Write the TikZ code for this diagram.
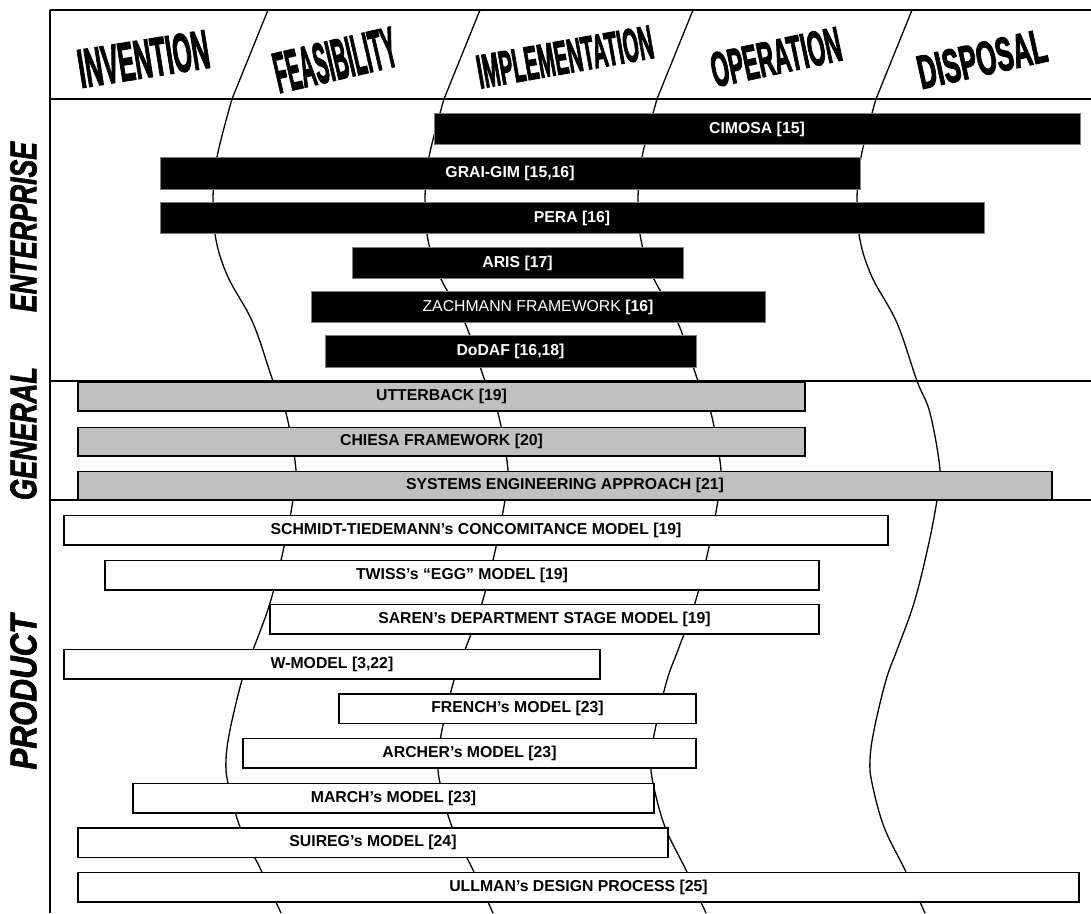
\documentclass[tikz,border=0pt]{standalone}
\usepackage{fontspec}
\setmainfont{Liberation Sans}
\newfontfamily\phasefont{Liberation Sans Bold}[RawFeature={embolden=3}]
\newfontfamily\sidefont{Liberation Sans Bold Italic}[RawFeature={embolden=2}]
\usepackage{tikz}
\definecolor{gen_grey}{HTML}{C0C0C0}
\definecolor{ent_edge}{HTML}{7F7F7F}

\begin{document}
\begin{tikzpicture}[x=1pt, y=-1pt,
        frame/.style={line width=1.6pt},
        phase/.style={line width=1.3pt},
        barfont/.style={font=\fontsize{15.8}{18}\selectfont\bfseries, inner sep=0pt},
        ent/.style={barfont, fill=black, draw=ent_edge, line width=0.8pt, text=white, minimum height=31.5pt},
        gen/.style={barfont, fill=gen_grey, draw=black, line width=1.5pt, minimum height=28.5pt},
        prod/.style={barfont, fill=white, draw=black, line width=1.5pt, minimum height=29.5pt},
        phasename/.style={inner sep=0pt},
        side/.style={inner sep=0pt, rotate=90}]

    \useasboundingbox (0,0) rectangle (1091,913);

    \foreach \dx in {0,212,425,644}{
        \draw[phase, xshift=\dx] (268,10) -- (232,99);
        \draw[phase, xshift=\dx] plot[smooth, tension=0.6] coordinates {(232,99) (217,157) (213,200) (216,240) (228,277) (253,323) (273,381) (286,413) (296,470) (293,500) (284,547) (270,603) (253,650) (242,680) (230,730) (226,760) (228,783) (240,827) (261,870) (281,913)};
    }

    \draw[frame] (50,10) -- (1091,10);
    \draw[frame] (50,99) -- (1091,99);
    \draw[frame] (50,381) -- (1091,381);
    \draw[frame] (50,500) -- (1091,500);
    \draw[frame] (50,10) -- (50,913);

    \node[phasename, rotate=9] (invention) at (143.5,59) {\resizebox{132pt}{38pt}{\phasefont INVENTION}};
    \node[phasename, rotate=13] (feasibility) at (335,60) {\resizebox{124pt}{40pt}{\phasefont FEASIBILITY}};
    \node[phasename, rotate=10] (implementation) at (565,57) {\resizebox{178pt}{33pt}{\phasefont IMPLEMENTATION}};
    \node[phasename, rotate=12] (operation) at (776,57) {\resizebox{132pt}{34pt}{\phasefont OPERATION}};
    \node[phasename, rotate=12.5] (disposal) at (982,59) {\resizebox{131pt}{33pt}{\phasefont DISPOSAL}};

    \node[side] (enterprise) at (23.5,227) {\resizebox{170pt}{26pt}{\sidefont ENTERPRISE}};
    \node[side] (general) at (23.5,433.5) {\resizebox{133pt}{26pt}{\sidefont GENERAL}};
    \node[side] (product) at (23.5,692) {\resizebox{155pt}{26pt}{\sidefont PRODUCT}};

    \node[ent, minimum width=646pt] (cimosa) at (757,129) {CIMOSA [15]};
    \node[ent, minimum width=700pt] (graigim) at (510,173.5) {GRAI-GIM [15,16]};
    \node[ent, minimum width=824pt] (pera) at (572,218) {PERA [16]};
    \node[ent, minimum width=331pt] (aris) at (517.5,263) {ARIS [17]};
    \node[ent, minimum width=454pt] (zachmann) at (538,307) {{\mdseries ZACHMANN FRAMEWORK} [16]};
    \node[ent, minimum width=371pt] (dodaf) at (510.5,351.5) {DoDAF [16,18]};

    \node[gen, minimum width=727pt] (utterback) at (441.5,396.5) {UTTERBACK [19]};
    \node[gen, minimum width=727pt] (chiesa) at (441.5,441.5) {CHIESA FRAMEWORK [20]};
    \node[gen, minimum width=974pt] (syseng) at (565,485.5) {SYSTEMS ENGINEERING APPROACH [21]};

    \node[prod, minimum width=824pt] (schmidt) at (476,530) {SCHMIDT-TIEDEMANN’s CONCOMITANCE MODEL [19]};
    \node[prod, minimum width=714pt] (twiss) at (462,575) {TWISS’s “EGG” MODEL [19]};
    \node[prod, minimum width=549pt] (saren) at (544.5,619) {SAREN’s DEPARTMENT STAGE MODEL [19]};
    \node[prod, minimum width=536pt] (wmodel) at (332,664) {W-MODEL [3,22]};
    \node[prod, minimum width=357pt] (french) at (517.5,708.5) {FRENCH’s MODEL [23]};
    \node[prod, minimum width=453pt] (archer) at (469.5,753) {ARCHER’s MODEL [23]};
    \node[prod, minimum width=521pt] (march) at (393.5,798) {MARCH’s MODEL [23]};
    \node[prod, minimum width=590pt] (suireg) at (373,842.5) {SUIREG’s MODEL [24]};
    \node[prod, minimum width=1001pt] (ullman) at (578.5,887) {ULLMAN’s DESIGN PROCESS [25]};

\end{tikzpicture}
\end{document}
